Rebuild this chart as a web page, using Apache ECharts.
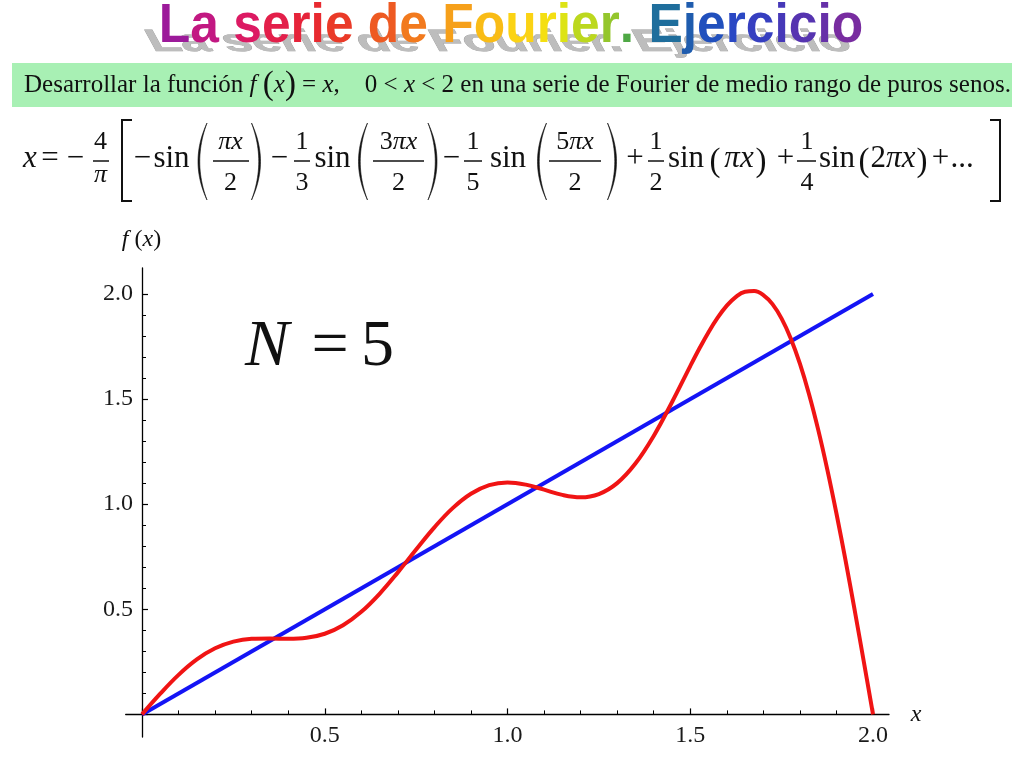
<!DOCTYPE html>
<html><head><meta charset="utf-8">
<script src="https://cdn.jsdelivr.net/npm/echarts@6/dist/echarts.min.js"></script>
<style>html,body{margin:0;padding:0;background:#fff}#c{width:1024px;height:768px}</style>
</head><body><div id="c"></div>
<script>
// ---- data ----
const xValues = [0,0.05,0.1,0.15,0.2,0.25,0.3,0.35,0.4,0.45,0.5,0.55,0.6,0.65,0.7,0.75,0.8,0.85,0.9,0.95,1.0,
  1.05,1.1,1.15,1.2,1.25,1.3,1.35,1.4,1.45,1.5,1.525,1.55,1.575,1.6,1.625,1.65,1.675,1.7,1.725,1.75,1.775,1.8,1.825,1.85,1.875,1.9,1.925,1.95,1.975,2.0];
const fourierValues = [0,0.0985,0.1881,0.2616,0.3145,0.3462,0.3595,0.3611,0.3595,0.3642,0.3837,0.4243,0.4882,0.5739,0.6757,0.7846,0.8900,0.9813,1.0498,1.0907,1.1035,
  1.0931,1.0691,1.0443,1.0329,1.0483,1.1003,1.1934,1.3249,1.4851,1.6570,1.7405,1.8185,1.8875,1.9446,1.9866,2.0106,2.0141,1.9950,1.9518,1.8831,1.7886,1.6684,1.5233,1.3547,1.1646,0.9557,0.7312,0.4944,0.2493,0];
const lineX = [0, 2];
const lineY = [0, 2];
const xTickLabels = ['0.5','1.0','1.5','2.0'];
const yTickLabels = ['0.5','1.0','1.5','2.0'];
const titleText = 'La serie de Fourier. Ejercicio';
const titleColors = ['#9c1a9a','#c21882','#c21882','#dc1a63','#e31f4a','#e6243a','#e82a30','#ea3a28','#ea3a28',
  '#ee5a22','#f27a1e','#f27a1e','#f6a01a','#f9bc16','#fbd314','#f4df12','#dde315','#bcd81e','#94c62c','#4fa845','#4fa845',
  '#1f6e9c','#1f5cae','#2150bd','#2a48c4','#363fc0','#4638b8','#5634b0','#6630a8','#782ca0'];
const boxText = 'Desarrollar la función ';
const boxText2 = ' en una serie de Fourier de medio rango de puros senos.';

// ---- helpers ----
const SERIF = '"Liberation Serif"';
const INK = '#111';
function txt(text, cx, cy, size, italic, extra) {
  return Object.assign({
    type: 'text', x: cx, y: cy, z: 10,
    style: { text: text, x: 0, y: 0, align: 'center', verticalAlign: 'middle',
      textAlign: 'center', textVerticalAlign: 'middle',
      font: (italic ? 'italic ' : '') + size + 'px ' + SERIF, fill: INK }
  }, extra || {});
}
function mixRich(size) {
  return {
    n: { font: size + 'px ' + SERIF, fill: INK },
    i: { font: 'italic ' + size + 'px ' + SERIF, fill: INK }
  };
}
function rtxt(text, cx, cy, size) {
  return { type: 'text', x: cx, y: cy, z: 10,
    style: { text: text, rich: mixRich(size), x: 0, y: 0, align: 'center', verticalAlign: 'middle',
      textAlign: 'center', textVerticalAlign: 'middle', font: size + 'px ' + SERIF, fill: INK } };
}
function bar(x1, x2, y) {
  return { type: 'line', z: 10, shape: { x1: x1, y1: y, x2: x2, y2: y }, style: { stroke: INK, lineWidth: 1.5 } };
}
const MAIN = 31, FR = 26, MY = 158.5, NUMY = 142.5, DENY = 183.5, BARY = 161;
function frac(num, den, cx, x1, x2, denY) {
  return [rtxt(num, cx, NUMY, FR), rtxt(den, cx, denY || DENY, FR), bar(x1, x2, BARY)];
}
// tall parenthesis drawn as a thin crescent polygon (glyph shape only)
function bigParen(ch, cx) {
  const top = 123, bot = 200, mid = (top + bot) / 2;
  const s = ch === '(' ? 1 : -1;
  const ex = cx + s * 4.5;
  const outer = cx - s * 13.5, inner = cx - s * 10;
  const pts = [];
  const n = 24;
  for (let k = 0; k <= n; k++) {
    const t = k / n, u = 1 - t;
    pts.push([u * u * ex + 2 * u * t * outer + t * t * ex, u * u * top + 2 * u * t * mid + t * t * bot]);
  }
  for (let k = n; k >= 0; k--) {
    const t = k / n, u = 1 - t;
    pts.push([u * u * ex + 2 * u * t * inner + t * t * ex, u * u * top + 2 * u * t * mid + t * t * bot]);
  }
  return { type: 'polygon', z: 10, shape: { points: pts }, style: { fill: INK, stroke: INK, lineWidth: 0.6 } };
}
function smallParen(ch, cx) {
  return txt(ch, cx, 162, 33, false);
}

const formula = [].concat(
  txt('x', 30, MY, MAIN, true),
  txt('=', 50, MY, MAIN, false),
  txt('\u2212', 75.5, MY, MAIN, false),
  frac('{n|4}', '{i|π}', 100.5, 93, 109, 175),
  [{ type: 'polyline', z: 10, shape: { points: [[132, 120], [122, 120], [122, 201], [132, 201]] }, style: { stroke: INK, lineWidth: 2, fill: null } }],
  txt('\u2212', 142.5, MY, MAIN, false),
  txt('sin', 171.5, MY, MAIN, false),
  bigParen('(', 202.5),
  frac('{i|πx}', '{n|2}', 230.5, 213, 249),
  bigParen(')', 256),
  txt('\u2212', 279.5, MY, MAIN, false),
  frac('{n|1}', '{n|3}', 302, 294, 310),
  txt('sin', 332.5, MY, MAIN, false),
  bigParen('(', 363),
  frac('{n|3}{i|πx}', '{n|2}', 398.5, 373, 424),
  bigParen(')', 432.5),
  txt('\u2212', 451.5, MY, MAIN, false),
  frac('{n|1}', '{n|5}', 473, 464, 482),
  txt('sin', 508, MY, MAIN, false),
  bigParen('(', 542),
  frac('{n|5}{i|πx}', '{n|2}', 575, 549, 601),
  bigParen(')', 612),
  txt('+', 635, MY, MAIN, false),
  frac('{n|1}', '{n|2}', 656, 648, 664),
  txt('sin', 686, MY, MAIN, false),
  smallParen('(', 715),
  rtxt('{i|πx}', 739, MY, MAIN),
  smallParen(')', 761),
  txt('+', 785.5, MY, MAIN, false),
  frac('{n|1}', '{n|4}', 807, 797, 816),
  txt('sin', 837, MY, MAIN, false),
  smallParen('(', 864),
  rtxt('{n|2}{i|πx}', 893, MY, MAIN),
  smallParen(')', 922),
  txt('+', 940.5, MY, MAIN, false),
  txt('...', 962, MY, MAIN, false),
  [{ type: 'polyline', z: 10, shape: { points: [[990, 120], [1000, 120], [1000, 201], [990, 201]] }, style: { stroke: INK, lineWidth: 2, fill: null } }]
);

// title
const titleRich = {};
let titleRichText = '';
for (let i = 0; i < titleText.length; i++) {
  titleRich['c' + i] = { font: 'bold 56px "Liberation Sans"', fill: titleColors[i] };
  titleRichText += '{c' + i + '|' + titleText[i] + '}';
}

const boxRich = {
  n: { font: '25px ' + SERIF, fill: INK },
  i: { font: 'italic 25px ' + SERIF, fill: INK },
  p: { font: '33px ' + SERIF, fill: INK }
};

const graphic = [
  { type: 'text', x: 499, y: 43, scaleX: 0.92, scaleY: 0.55, skewX: 0.5, z: 1,
    style: { text: titleText, x: 0, y: 0, align: 'center', verticalAlign: 'middle', textAlign: 'center', textVerticalAlign: 'middle',
      font: 'bold 56px "Liberation Sans"', fill: '#bdbdbd', stroke: '#9c9c9c', lineWidth: 1 } },
  { type: 'text', x: 511, y: 27, scaleX: 0.92, z: 2,
    style: { text: titleRichText, rich: titleRich, x: 0, y: 0, align: 'center', verticalAlign: 'middle', textAlign: 'center', textVerticalAlign: 'middle',
      font: 'bold 56px "Liberation Sans"' } },
  { type: 'rect', z: 3, shape: { x: 12, y: 63, width: 1000, height: 44 }, style: { fill: '#a8f0b4' } },
  { type: 'text', x: 24, y: 85, z: 10,
    style: { text: '{n|' + boxText + '}{i|f}{n| }{p|(}{i|x}{p|)}{n| = }{i|x}{n|,    0 < }{i|x}{n| < 2' + boxText2 + '}',
      rich: boxRich, x: 0, y: 0, align: 'left', verticalAlign: 'middle', textAlign: 'left', textVerticalAlign: 'middle',
      font: '25px ' + SERIF, fill: INK } },
  txt('N', 267, 348, 66, true),
  txt('=', 330, 348, 66, false),
  txt('5', 377.5, 348, 66, false),
  rtxt('{i|f}{n| (}{i|x}{n|)}', 141.5, 240, 24),
  txt('x', 916, 715, 24, true)
].concat(formula);

const tickFont = { fontFamily: 'Liberation Serif', fontSize: 24, color: '#1a1a1a' };
function fmt(list) {
  return function (v) { const s = v.toFixed(1); return list.indexOf(s) >= 0 ? s : ''; };
}

const option = {
  animation: false,
  backgroundColor: '#fff',
  grid: [
    { left: 142, top: 294, width: 731, height: 420.4 },
    { left: 125.7, top: 268, width: 763.3, height: 469 }
  ],
  xAxis: [
    { gridIndex: 0, type: 'value', min: 0, max: 2, interval: 0.5,
      axisLine: { show: false },
      axisTick: { show: true, inside: true, length: 6, lineStyle: { color: '#000', width: 1.2 } },
      minorTick: { show: true, splitNumber: 5, length: 4, lineStyle: { color: '#000', width: 1 } },
      splitLine: { show: false }, minorSplitLine: { show: false },
      axisLabel: Object.assign({ margin: 9, formatter: fmt(xTickLabels) }, tickFont) },
    { gridIndex: 1, type: 'value', min: -0.0446, max: 2.0438,
      axisLine: { show: true, onZero: true, lineStyle: { color: '#000', width: 1.3 } },
      axisTick: { show: false }, axisLabel: { show: false }, splitLine: { show: false } }
  ],
  yAxis: [
    { gridIndex: 0, type: 'value', min: 0, max: 2, interval: 0.5,
      axisLine: { show: false },
      axisTick: { show: true, inside: true, length: 6, lineStyle: { color: '#000', width: 1.2 } },
      minorTick: { show: true, splitNumber: 5, length: 4, lineStyle: { color: '#000', width: 1 } },
      splitLine: { show: false }, minorSplitLine: { show: false },
      axisLabel: Object.assign({ margin: 9, formatter: fmt(yTickLabels) }, tickFont) },
    { gridIndex: 1, type: 'value', min: -0.1075, max: 2.1237,
      axisLine: { show: true, onZero: true, lineStyle: { color: '#000', width: 1.3 } },
      axisTick: { show: false }, axisLabel: { show: false }, splitLine: { show: false } }
  ],
  series: [
    { type: 'line', xAxisIndex: 0, yAxisIndex: 0, data: lineX.map((x, i) => [x, lineY[i]]),
      showSymbol: false, clip: false, lineStyle: { color: '#1414f5', width: 4 }, z: 3 },
    { type: 'line', xAxisIndex: 0, yAxisIndex: 0, data: xValues.map((x, i) => [x, fourierValues[i]]),
      smooth: 0.4, smoothConstraint: false, showSymbol: false, clip: false, lineStyle: { color: '#f01414', width: 4 }, z: 4 }
  ],
  graphic: graphic
};
const chart = echarts.init(document.getElementById('c'));
chart.setOption(option);
</script></body></html>
